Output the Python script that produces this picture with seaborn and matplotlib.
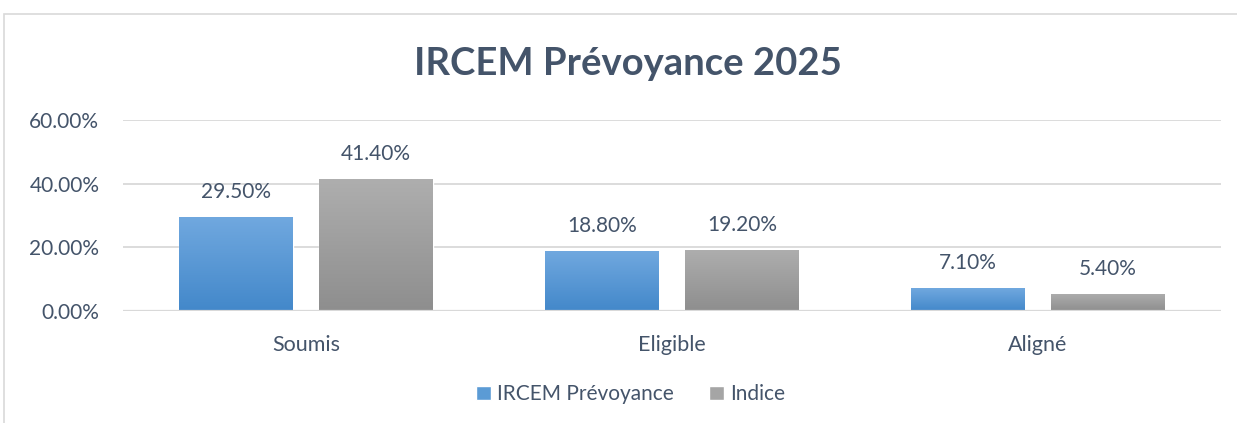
import numpy as np
import pandas as pd
import matplotlib.pyplot as plt
import matplotlib.colors as mcolors
from matplotlib.patches import Rectangle
import seaborn as sns

# chart data (percent)
categories = ["Soumis", "Eligible", "Aligné"]
ircem = [29.5, 18.8, 7.1]
indice = [41.4, 19.2, 5.4]
series_names = ["IRCEM Prévoyance", "Indice"]
yticks = [0, 20, 40, 60]

df = pd.DataFrame({
    "Catégorie": categories * 2,
    "Série": [series_names[0]] * 3 + [series_names[1]] * 3,
    "Valeur": ircem + indice,
})

sns.set_style("white")
plt.rcParams['font.family'] = ['Lato', 'DejaVu Sans']
text_col = "#44546A"
grid_col = "#D9D9D9"

fig = plt.figure(figsize=(12.37, 4.23), dpi=100)
ax = fig.add_axes([0.0994, 0.2648, 0.8876, 0.4515])

palette = {series_names[0]: "#5B9BD5", series_names[1]: "#A5A5A5"}
sns.barplot(data=df, x="Catégorie", y="Valeur", hue="Série", palette=palette,
            saturation=1, width=0.765, gap=0.19, ax=ax, legend=False, zorder=3)

ax.set_ylim(0, 60)
ax.set_xlim(-0.5, 2.5)
ax.set_yticks(yticks)
ax.set_yticklabels([f"{v:.2f}%" for v in yticks], fontsize=15, color=text_col)
ax.tick_params(axis="x", labelsize=15.5, labelcolor=text_col, length=0, pad=17)
ax.tick_params(axis="y", length=0, pad=17)
ax.set_xlabel("")
ax.set_ylabel("")
ax.grid(axis="y", color=grid_col, linewidth=1.3, zorder=0)
for s in ax.spines.values():
    s.set_visible(False)
ax.axhline(0, color=grid_col, linewidth=1.6, zorder=4)

# gradient fills like the Excel original
grads = {
    "#5b9bd5": ("#70A8DF", "#4388CA"),
    "#a5a5a5": ("#AEAEAE", "#8E8E8E"),
}
bars = [p for p in ax.patches if p.get_height() > 0]
for p in bars:
    fc = mcolors.to_hex(p.get_facecolor())
    top, bot = grads.get(fc, (fc, fc))
    cmap = mcolors.LinearSegmentedColormap.from_list("g", [bot, top])
    x0, y0 = p.get_x(), p.get_y()
    w, h = p.get_width(), p.get_height()
    grad = np.linspace(0, 1, 100).reshape(-1, 1)
    im = ax.imshow(grad, cmap=cmap, aspect="auto", origin="lower",
                   extent=[x0, x0 + w, y0, y0 + h], zorder=3.5)
    im.set_clip_path(p)
    ax.annotate(f"{h:.2f}%", (x0 + w / 2, h), xytext=(0, 11),
                textcoords="offset points", ha="center", va="bottom",
                fontsize=15, color=text_col)

ax.set_xlim(-0.5, 2.5)
ax.set_ylim(0, 60)

fig.text(0.508, 0.848, "IRCEM Prévoyance 2025", ha="center", va="center",
         fontsize=27.5, fontweight="bold", color=text_col)

legend_cols = ["#5B9BD5", "#A5A5A5"]
handles = [Rectangle((0, 0), 1, 1, facecolor=c) for c in legend_cols]
fig.legend(handles, series_names, loc="center", bbox_to_anchor=(0.51, 0.068),
           ncol=2, frameon=False, fontsize=15, labelcolor=text_col,
           handlelength=0.7, handleheight=0.7, handletextpad=0.3, columnspacing=1.7)

fig.patches.append(Rectangle((4 / 1237, -0.05), 1.1, 1 - 14 / 423 + 0.05,
                             transform=fig.transFigure, fill=False,
                             edgecolor=grid_col, linewidth=1.2))

fig.savefig("out.png", dpi=100)
